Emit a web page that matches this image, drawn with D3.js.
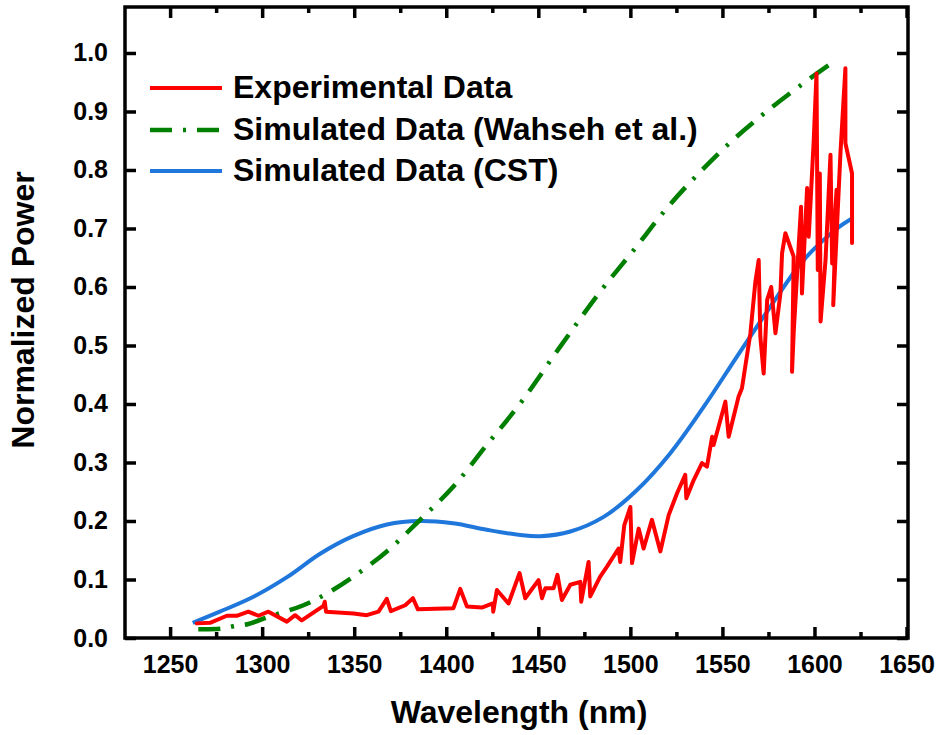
<!DOCTYPE html>
<html>
<head>
<meta charset="utf-8">
<script src="https://cdn.jsdelivr.net/npm/d3@7"></script>
<style>
  body { margin: 0; background: #fff; }
  text { font-family: "Liberation Sans", Arial, sans-serif; font-weight: bold; fill: #000; }
</style>
</head>
<body>
<div class="chart"></div>
<script>
const W = 942, H = 735;

// ---- data ----
const xTicks = [1250, 1300, 1350, 1400, 1450, 1500, 1550, 1600, 1650];
const xMinorTicks = [1275, 1325, 1375, 1425, 1475, 1525, 1575, 1625];
const yTicks = [0, 0.1, 0.2, 0.3, 0.4, 0.5, 0.6, 0.7, 0.8, 0.9, 1.0];

const legendLabels = ["Experimental Data", "Simulated Data (Wahseh et al.)", "Simulated Data (CST)"];

// simulated (CST)
const cstWl  = [1262.3, 1277, 1295, 1313.5, 1331.5, 1349.4, 1367.8, 1385.8, 1403.7, 1422, 1440.2, 1451, 1467.4, 1485.5, 1503.6, 1521.7, 1539.8, 1557.9, 1576, 1594.1, 1612.3, 1620.4];
const cstVal = [0.026, 0.045, 0.070, 0.104, 0.144, 0.174, 0.194, 0.200, 0.196, 0.185, 0.176, 0.174, 0.182, 0.207, 0.253, 0.316, 0.395, 0.481, 0.566, 0.646, 0.700, 0.717];

// simulated (Wahseh et al.)
const wahWl  = [1265.3, 1278, 1284.4, 1292.5, 1303.4, 1322.4, 1335.1, 1349.6, 1367.7, 1385.8, 1403.9, 1422, 1440.2, 1461.9, 1483.6, 1501.8, 1519.9, 1538, 1557, 1576, 1597.8, 1610.4];
const wahVal = [0.015, 0.016, 0.020, 0.024, 0.036, 0.056, 0.076, 0.105, 0.148, 0.202, 0.259, 0.330, 0.401, 0.498, 0.592, 0.663, 0.735, 0.797, 0.855, 0.905, 0.957, 0.985];

// experimental
const expWl  = [1264.5, 1271.7, 1280.8, 1286.2, 1292.5, 1298, 1303.4, 1313.4, 1317.9, 1321.5, 1333.3, 1334, 1334.7, 1349.6, 1356.8, 1363.2, 1367.7, 1369.9, 1377.7, 1381.9, 1384.6, 1403.9, 1407.6, 1411.2, 1419.3, 1425.3, 1425.5, 1427.5, 1433.8, 1439.8, 1442.9, 1450.1, 1452, 1453.8, 1458.3, 1460.4, 1462.8, 1467.4, 1472.8, 1473.3, 1477.3, 1478.2, 1483.6, 1487.3, 1493.6, 1494.5, 1496.7, 1500, 1500.9, 1504.5, 1507.2, 1511.7, 1516.3, 1520.8, 1525.3, 1529.8, 1530.4, 1534.4, 1538.9, 1541.6, 1544.4, 1545.2, 1551.6, 1553.4, 1558.8, 1560.6, 1565.2, 1567.9, 1569.7, 1570.6, 1572.4, 1574.3, 1576.5, 1578.8, 1581.5, 1582.4, 1584.2, 1588.7, 1587.8, 1588.7, 1591.4, 1592.7, 1593.2, 1596, 1596.9, 1599.6, 1601.1, 1601.8, 1602.9, 1603.3, 1606, 1608.7, 1609.6, 1612, 1610.2, 1614.1, 1616.8, 1616.8, 1620.4, 1620.4];
const expVal = [0.025, 0.026, 0.038, 0.038, 0.045, 0.038, 0.045, 0.028, 0.039, 0.030, 0.055, 0.062, 0.045, 0.042, 0.039, 0.045, 0.067, 0.046, 0.056, 0.068, 0.049, 0.051, 0.084, 0.054, 0.052, 0.059, 0.045, 0.082, 0.059, 0.111, 0.068, 0.099, 0.068, 0.085, 0.085, 0.108, 0.065, 0.091, 0.096, 0.062, 0.130, 0.071, 0.105, 0.122, 0.153, 0.130, 0.193, 0.224, 0.128, 0.187, 0.153, 0.202, 0.148, 0.210, 0.247, 0.279, 0.239, 0.270, 0.299, 0.293, 0.344, 0.330, 0.404, 0.344, 0.413, 0.427, 0.521, 0.609, 0.646, 0.515, 0.452, 0.578, 0.600, 0.521, 0.589, 0.658, 0.692, 0.652, 0.455, 0.521, 0.669, 0.737, 0.589, 0.769, 0.686, 0.851, 0.965, 0.629, 0.794, 0.541, 0.646, 0.826, 0.640, 0.766, 0.569, 0.828, 0.974, 0.846, 0.794, 0.675];

const zip = (xs, ys) => xs.map((x, i) => ({x: x, y: ys[i]}));

const svg = d3.select(".chart").append("svg")
    .attr("width", W)
    .attr("height", H);

const plot = {left: 125, right: 908, top: 7, bottom: 638};

const xScale = d3.scaleLinear()
    .domain([1225.5, 1650.8])
    .range([plot.left, plot.right]);

const yScale = d3.scaleLinear()
    .domain([0, 1.0786])
    .range([plot.bottom, plot.top]);

// lines
const smooth = d3.line()
    .x(d => xScale(d.x))
    .y(d => yScale(d.y))
    .curve(d3.curveCatmullRom.alpha(0.5));

const straight = d3.line()
    .x(d => xScale(d.x))
    .y(d => yScale(d.y));

svg.append("path")
    .datum(zip(cstWl, cstVal))
    .attr("d", smooth)
    .attr("fill", "none")
    .attr("stroke", "#1f77dc")
    .attr("stroke-width", 4);

svg.append("path")
    .datum(zip(wahWl, wahVal))
    .attr("d", smooth)
    .attr("fill", "none")
    .attr("stroke", "#007f00")
    .attr("stroke-width", 4.5)
    .attr("stroke-dasharray", "22,11,3,11");

svg.append("path")
    .datum(zip(expWl, expVal))
    .attr("d", straight)
    .attr("fill", "none")
    .attr("stroke", "#ff0000")
    .attr("stroke-width", 4)
    .attr("stroke-linejoin", "round")
    .attr("stroke-linecap", "round");

// axes, ticks pointing inward on all four sides
const styleAxis = g => {
    g.select(".domain").remove();
    g.selectAll(".tick line").attr("stroke", "#000").attr("stroke-width", 3.5);
    g.selectAll(".tick text")
        .attr("font-size", 25)
        .attr("font-family", "Liberation Sans, Arial, sans-serif")
        .attr("font-weight", "bold")
        .attr("fill", "#000");
};

svg.append("g")
    .attr("transform", `translate(0,${plot.bottom})`)
    .call(d3.axisBottom(xScale).tickValues(xTicks).tickSizeInner(-11).tickSizeOuter(0)
        .tickPadding(17).tickFormat(d3.format("d")))
    .call(styleAxis);

svg.append("g")
    .attr("transform", `translate(0,${plot.bottom})`)
    .call(d3.axisBottom(xScale).tickValues(xMinorTicks).tickSizeInner(-6).tickSizeOuter(0).tickFormat(""))
    .call(styleAxis);

svg.append("g")
    .attr("transform", `translate(0,${plot.top})`)
    .call(d3.axisTop(xScale).tickValues(xTicks).tickSizeInner(-11).tickSizeOuter(0).tickFormat(""))
    .call(styleAxis);

svg.append("g")
    .attr("transform", `translate(0,${plot.top})`)
    .call(d3.axisTop(xScale).tickValues(xMinorTicks).tickSizeInner(-6).tickSizeOuter(0).tickFormat(""))
    .call(styleAxis);

svg.append("g")
    .attr("transform", `translate(${plot.left},0)`)
    .call(d3.axisLeft(yScale).tickValues(yTicks).tickSizeInner(-11).tickSizeOuter(0)
        .tickPadding(17).tickFormat(d3.format(".1f")))
    .call(styleAxis);

svg.append("g")
    .attr("transform", `translate(${plot.right},0)`)
    .call(d3.axisRight(yScale).tickValues(yTicks).tickSizeInner(-11).tickSizeOuter(0).tickFormat(""))
    .call(styleAxis);

// frame
svg.append("rect")
    .attr("x", plot.left)
    .attr("y", plot.top)
    .attr("width", plot.right - plot.left)
    .attr("height", plot.bottom - plot.top)
    .attr("fill", "none")
    .attr("stroke", "#000")
    .attr("stroke-width", 3.5);

// axis titles
svg.append("text")
    .attr("x", 519)
    .attr("y", 723)
    .attr("text-anchor", "middle")
    .attr("font-size", 32)
    .text("Wavelength (nm)");

svg.append("text")
    .attr("transform", "translate(34,310) rotate(-90)")
    .attr("text-anchor", "middle")
    .attr("font-size", 32)
    .text("Normalized Power");

// legend
const legendColors = ["#ff0000", "#007f00", "#1f77dc"];
const legendDash = [null, "22,11,3,11", null];
const legendY = [88, 130, 171];

const legend = svg.append("g");
legendLabels.forEach((label, i) => {
    legend.append("line")
        .attr("x1", 150).attr("x2", 222)
        .attr("y1", legendY[i]).attr("y2", legendY[i])
        .attr("stroke", legendColors[i])
        .attr("stroke-width", i == 1 ? 4.5 : 4)
        .attr("stroke-dasharray", legendDash[i]);
    legend.append("text")
        .attr("x", 233)
        .attr("y", legendY[i] + 10)
        .attr("font-size", 32)
        .text(label);
});
</script>
</body>
</html>
